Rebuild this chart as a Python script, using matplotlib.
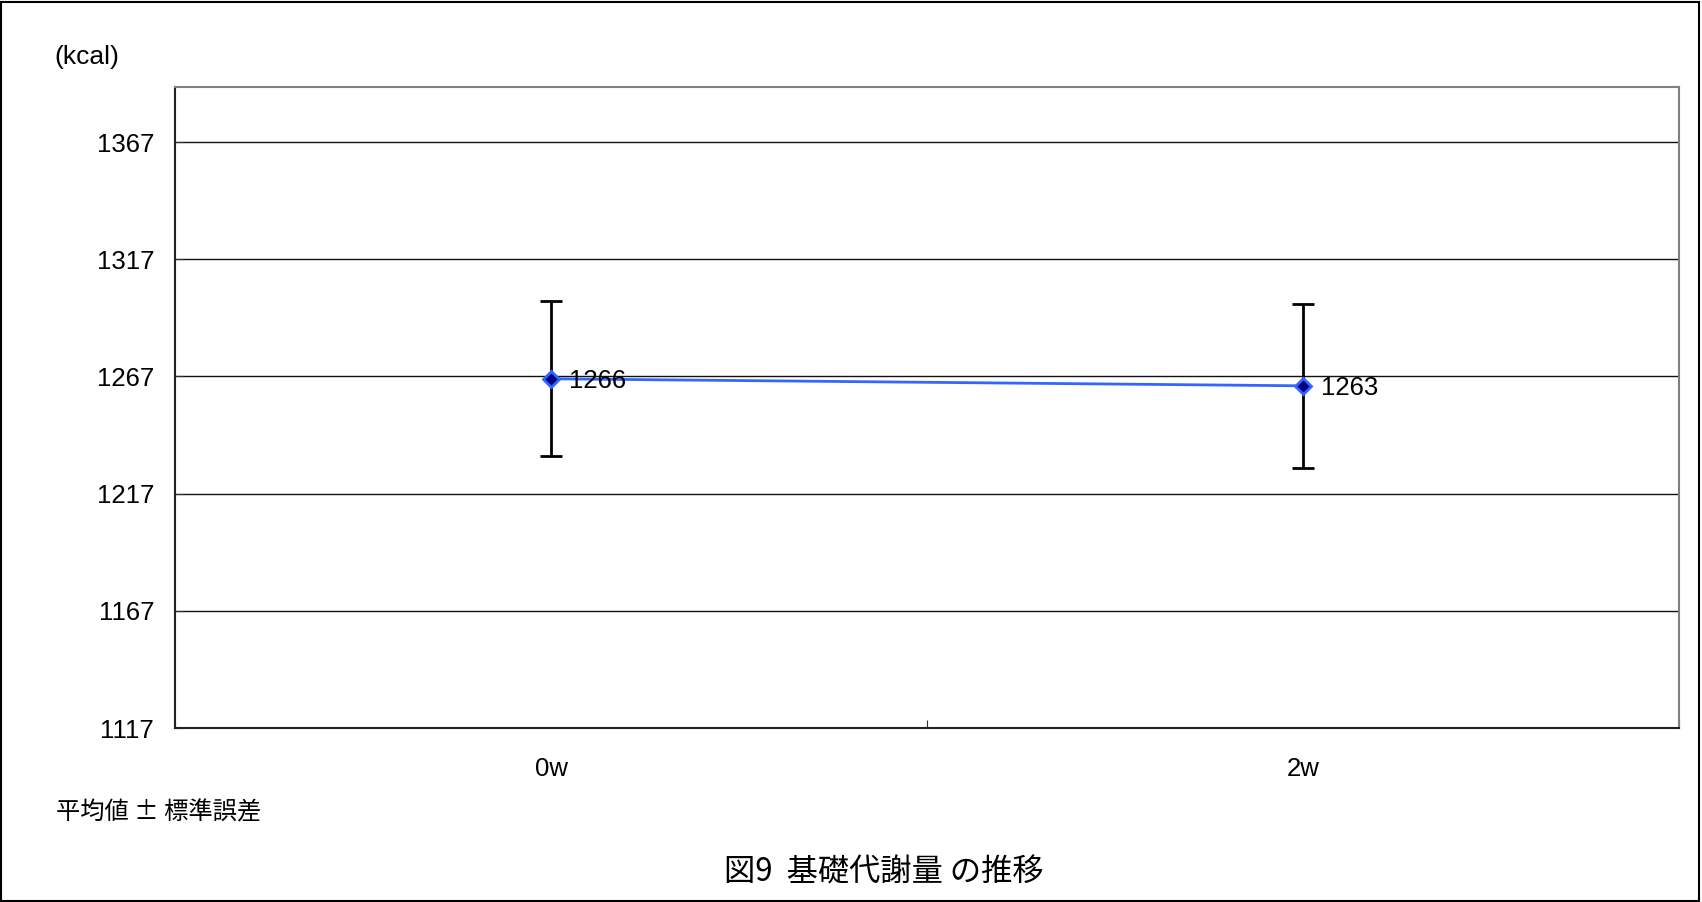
import matplotlib
matplotlib.use("Agg")
import matplotlib.pyplot as plt
from matplotlib.patches import Rectangle

categories = ["0w", "2w"]
means = [1266, 1263]
errors = [33, 35]
yticks = [1117, 1167, 1217, 1267, 1317, 1367]

plt.rcParams['font.family'] = ['Liberation Sans', 'Noto Sans CJK JP']

W, H = 1702, 902
fig = plt.figure(figsize=(W / 100, H / 100), dpi=100)
ax = fig.add_axes([175 / W, 1 - 728 / H, 1504 / W, 641 / H])

x = list(range(len(categories)))
ax.errorbar(x, means, yerr=errors, fmt='none', ecolor='black', elinewidth=2,
            capsize=8, capthick=2, zorder=3)
ax.plot(x, means, color='#3366ff', linewidth=2, marker='D', markersize=8,
        markerfacecolor='#000080', markeredgecolor='#3366ff', markeredgewidth=2,
        zorder=4)
for xi, m in zip(x, means):
    ax.annotate(str(m), xy=(xi, m), xytext=(18, -2), textcoords='offset pixels',
                ha='left', va='center', fontsize=18.5, zorder=5)

ax.set_xlim(-0.5, 1.5)
ax.set_ylim(1117, 1390.5)
ax.set_yticks(yticks)
ax.set_yticklabels([str(t) for t in yticks], fontsize=18.5)
ax.set_xticks([-0.5, 0.5, 1.5])
ax.set_xticklabels([])
ax.tick_params(axis='both', direction='in', length=6, color='#333333')
ax.tick_params(axis='y', pad=15)
ax.grid(axis='y', color='#111111', linewidth=1)
ax.set_axisbelow(True)
for side in ['top', 'right']:
    ax.spines[side].set_color('#808080')
    ax.spines[side].set_linewidth(1.5)
for side in ['left', 'bottom']:
    ax.spines[side].set_color('#222222')
    ax.spines[side].set_linewidth(1.5)

for xi, c in zip(x, categories):
    ax.annotate(c, xy=(xi, 0), xycoords=('data', 'axes fraction'),
                xytext=(0, -41), textcoords='offset pixels',
                ha='center', va='center', fontsize=18.5)

fig.text(54 / W, 1 - 57 / H, "(kcal)", ha='left', va='center', fontsize=19)
fig.text(56 / W, 1 - 812 / H, "平均値 ± 標準誤差", ha='left', va='center',
         fontsize=17.5, family=['Noto Sans CJK JP', 'Liberation Sans'])
fig.text(884 / W, 1 - 872 / H, "図9  基礎代謝量 の推移", ha='center', va='center',
         fontsize=22.5, family=['Noto Sans CJK JP', 'Liberation Sans'])

fig.patches.append(Rectangle((0.0005, 0.001), 0.998, 0.997, transform=fig.transFigure,
                             fill=False, edgecolor='black', linewidth=1.5))

fig.savefig("out.png", dpi=100)
